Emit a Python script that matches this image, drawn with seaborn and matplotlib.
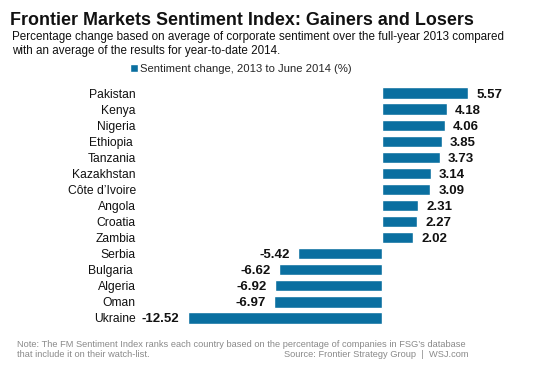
import pandas as pd
import seaborn as sns
import matplotlib
import matplotlib.pyplot as plt
matplotlib.use('Agg')

sns.set_theme(style="white")
plt.rcParams['font.family'] = ['Liberation Sans', 'DejaVu Sans']

countries = ['Pakistan', 'Kenya', 'Nigeria', 'Ethiopia ', 'Tanzania', 'Kazakhstan',
             'Côte d\u2019Ivoire', 'Angola', 'Croatia', 'Zambia', 'Serbia',
             'Bulgaria ', 'Algeria', 'Oman', 'Ukraine']
change = [5.57, 4.18, 4.06, 3.85, 3.73, 3.14, 3.09, 2.31, 2.27, 2.02,
          -5.42, -6.62, -6.92, -6.97, -12.52]
series_name = 'Sentiment change, 2013 to June 2014 (%)'

df = pd.DataFrame({'country': countries, 'change': change})
bar_color = '#0a6fa0'

fig = plt.figure(figsize=(5.53, 3.69), dpi=100)
ax = fig.add_axes([140 / 553, 0.1165, (510 - 140) / 553, 0.7696 - 0.1165])

sns.barplot(data=df, x='change', y='country', color=bar_color, width=0.7,
            label=series_name, ax=ax, saturation=1)

value_texts = ax.bar_label(ax.containers[0], labels=[f'{v:.2f}' for v in change],
                           padding=6, fontsize=9.5, fontweight='bold', color='#111111')
for t in value_texts:
    t.set_verticalalignment('center_baseline')

ax.set_xlim(-15.61, 8.26)
ax.set_xlabel('')
ax.set_ylabel('')
ax.set_xticks([])
ax.tick_params(axis='y', length=0, pad=3, labelsize=8.7, labelcolor='#111111')
sns.despine(ax=ax, left=True, bottom=True)

ax.legend(loc='center left', bbox_to_anchor=(124 / 553, 1 - 69 / 369),
          bbox_transform=fig.transFigure, frameon=False, fontsize=8.1,
          handlelength=0.7, handleheight=0.7, handletextpad=0.25, borderpad=0)

fig.text(10 / 553, 1 - 25 / 369, 'Frontier Markets Sentiment Index: Gainers and Losers',
         fontsize=12.9, fontweight='bold', color='#111111', va='baseline')
fig.text(12 / 553, 1 - 40 / 369,
         'Percentage change based on average of corporate sentiment over the full-year 2013 compared',
         fontsize=8.38, color='#111111', va='baseline')
fig.text(12 / 553, 1 - 54 / 369,
         'with an average of the results for year-to-date 2014.',
         fontsize=8.38, color='#111111', va='baseline')

fig.text(17 / 553, 1 - 347 / 369,
         'Note: The FM Sentiment Index ranks each country based on the percentage of companies in FSG\u2019s database',
         fontsize=6.7, color='#8a8a8a', va='baseline')
fig.text(17 / 553, 1 - 357 / 369, 'that include it on their watch-list.',
         fontsize=6.7, color='#8a8a8a', va='baseline')
fig.text(468 / 553, 1 - 357 / 369, 'Source: Frontier Strategy Group  |  WSJ.com',
         fontsize=6.7, color='#8a8a8a', va='baseline', ha='right')

fig.savefig('out.png', dpi=100)
